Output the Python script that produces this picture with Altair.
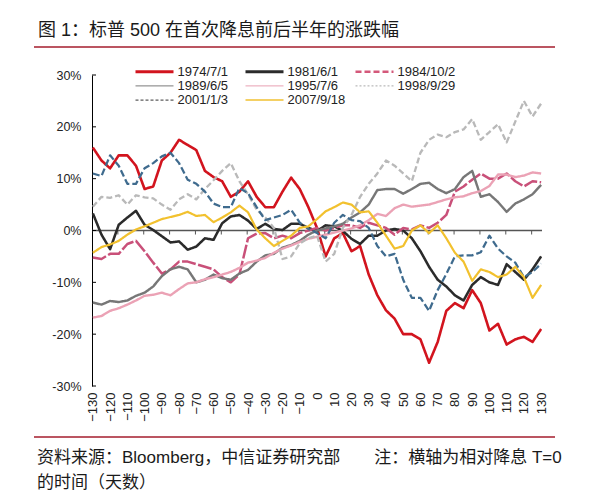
import altair as alt
import pandas as pd

# ---------------- data ----------------
DAYS = list(range(-130, 131, 5))
SERIES = ["1974/7/1", "1981/6/1", "1984/10/2", "1989/6/5",
          "1995/7/6", "1998/9/29", "2001/1/3", "2007/9/18"]

S1974 = [16, 13.5, 12, 14.5, 14.5, 12.5, 8, 8.5, 13.5, 15,
         17.5, 16.5, 15.5, 11.5, 10.3, 9.5, 6.5, 7.5, 9.5, 6.5,
         4.5, 4.5, 7.5, 10.2, 8, 4.5, 0.5, -5, -1.5, -0.5,
         -4, -3, -8.5, -12.5, -15.4, -17, -20, -20, -21, -25.5,
         -21.5, -15.5, -14, -15, -11.5, -14, -19.3, -18, -22, -21,
         -20.5, -21.5, -19]
S1981 = [3.3, -0.8, -3.6, 1.1, 2.5, 3.8, 1.1, 0.1, -1.1, -2.3,
         -2.1, -3.7, -3.1, -1.5, -1.8, 1.4, 2.7, 3, 1.9, 0.3,
         1.3, 0.3, 0.1, 1.3, 1.3, 0.5, -0.1, 1, 0.8, -0.1,
         -1.6, -2.6, -1, -1, 0, 0.3, 0, -1.5, -4, -7,
         -9.5, -10.8, -12.5, -13.5, -10.5, -9, -10, -10.5, -6.5, -8,
         -9.5, -7.5, -5]
S1984 = [-5.2, -5.5, -4.5, -4.5, -2.6, -2, -4, -6.2, -8.3, -7.5,
         -6, -6, -6.5, -7, -7.5, -9, -10, -8.5, -1.5, -0.6,
         -0.5, -1.5, -1, -1.5, -0.5, 0, 0.5, 0, 0.5, 1,
         1, 0.5, 1.5, 1, 0.5, -0.8, 0.5, 0.2, 1, 0.5,
         1.5, 3, 7.5, 8.5, 9.8, 11, 10, 10, 11, 9.5,
         8.5, 9.5, 9.3]
S1989 = [-13.9, -14.3, -13.6, -13.8, -13.5, -12.6, -12, -10.8, -8.8, -7.5,
         -7, -7.5, -10, -9.5, -8.5, -9.2, -9.5, -8.3, -7.6, -6,
         -4.8, -4.5, -3.3, -2.8, -2, -0.8, 0, 0.4, 0.8, 1.3,
         2.5, 3.5, 5, 7.8, 8, 8, 7.1, 8, 9, 9.2,
         8, 7.2, 8, 10.3, 11.5, 6.5, 7, 5.5, 3.6, 5.2,
         6, 7, 8.8]
S1995 = [-16.8, -16.5, -15.5, -15, -14.3, -13.5, -12.6, -12.4, -12, -12.5,
         -11.3, -10.2, -10, -9.4, -9, -8.5, -8, -7.2, -6.2, -5.8,
         -5.3, -4.3, -3.5, -2.9, -2.2, -1.6, -1.2, -0.8, -0.4, 0,
         0.4, 1, 2, 3.2, 2.8, 4.3, 5, 4.6, 4.8, 5,
         5.5, 6, 6.4, 6.6, 7.2, 7.6, 8.6, 10.8, 10.8, 10.3,
         10.6, 11.2, 11]
S1998 = [4.6, 6.5, 6.3, 6.8, 5, 6.8, 6.4, 6.2, 5, 4,
         6, 7, 6, 8, 9.7, 11.5, 13, 9.5, 7, 4,
         2.5, 0.5, -5.5, -5, -2.5, -1.5, -1, -6, -4.5, 0.5,
         3, 6.5, 9, 11, 13.5, 12.5, 11, 9.5, 15, 17.5,
         18.5, 18, 19, 19.5, 21.5, 17.5, 19, 20.5, 17, 21,
         25, 22, 24.5]
S2001 = [11, 10.5, 14.5, 12.5, 9, 9, 12, 13, 14.3, 15,
         13, 9.8, 9, 7.5, 5.2, 4.5, 4.5, 8.2, 7.2, 4.5,
         2, 2.5, 3, 4, 1.5, 0.3, -0.5, -1.5, 1.5, 3,
         2, 1.8, 0.5, -3, -5, -4.5, -9.5, -13, -13, -15.5,
         -11.5, -8.4, -5, -4.8, -4.8, -4.2, -1, -3.5, -5, -6.2,
         -9, -8, -6.4]
S2007 = [-4.3, -3.2, -2.7, -2, -0.8, 0.2, 0.8, 1.5, 2.2, 2.6,
         3, 3.6, 2.8, 3, 1.6, 2.5, 3.5, 4.8, 3.5, 0.2,
         -1.5, -3, -2, -1, 0.5, 0.8, 2.2, 3.7, 4.5, 5.4,
         5, 3.5, 3.7, 1.5, -1, -3.5, -3, 0, 1, -0.5,
         1, -1.5, -4.3, -6, -9.7, -7.5, -8, -9, -8.5, -7,
         -9, -13, -10.5]
VALUES = [S1974, S1981, S1984, S1989, S1995, S1998, S2001, S2007]

X_LABELS = [-130, -120, -110, -100, -90, -80, -70, -60, -50, -40, -30, -20, -10,
            0, 10, 20, 30, 40, 50, 60, 70, 80, 90, 100, 110, 120, 130]
Y_LABELS = [-30, -20, -10, 0, 10, 20, 30]
ZERO_TICKS = [-115.5, -100.5, -85.5, -70.5, -55.5, -40.5, -25.5, -10.5, 4.5,
              19.5, 34.5, 49.5, 64.5, 79.5, 94.5, 109.5, 124.5]

TITLE = "图 1：标普 500 在首次降息前后半年的涨跌幅"
FOOT1 = "资料来源：Bloomberg，中信证券研究部　　注：横轴为相对降息 T=0"
FOOT2 = "的时间（天数）"

# ---------------- styles ----------------
LINE_COLORS = ["#d2141e", "#2b2b2b", "#c95079", "#777777",
               "#eba2b5", "#b9b9b9", "#3f6b8e", "#f2c12e"]
LINE_WIDTHS = [2.6, 2.2, 2.2, 2.0, 2.0, 2.0, 2.0, 2.4]
LINE_DASH = [[1, 0], [1, 0], [14, 2.5], [1, 0], [1, 0], [6, 3], [7, 3], [1, 0]]

LEG_COLORS = ["#d2141e", "#2b2b2b", "#d4587a", "#7a7a7a",
              "#e8a0b2", "#a8a8a8", "#333333", "#f0c030"]
LEG_WIDTHS = [3, 3, 2.5, 1, 1, 1, 1, 1.5]
LEG_DASH = [None, None, [6, 3], None, None, [2, 2], [3, 2], None]

FONT = "Liberation Sans, Noto Sans CJK SC"
W, H = 450, 311
ZERO_PX = H / 2

rows = []
for name, vals in zip(SERIES, VALUES):
    for d, v in zip(DAYS, vals):
        rows.append({"day": d, "pct": v, "series": name})
df = pd.DataFrame(rows)

xs = alt.Scale(domain=[-130.5, 130.5], nice=False, zero=False)
ys = alt.Scale(domain=[-30, 30], nice=False, zero=False)

X_AXIS = alt.Axis(values=X_LABELS, labelAngle=270, domain=False, ticks=False,
                  grid=False, labelPadding=6, labelFontSize=13, labelColor="#222",
                  labelFont=FONT, labelOverlap=False, labelFlush=False,
                  labelBound=False, title=None)
Y_AXIS = alt.Axis(values=Y_LABELS, labelExpr="datum.value + '%'", domain=True,
                  domainColor="#000", domainWidth=1, ticks=False, grid=False,
                  labelPadding=11, labelFontSize=12.5, labelColor="#222",
                  labelFont=FONT, labelOverlap=False, title=None)


def xe(field):
    return alt.X(field, scale=xs, axis=X_AXIS, title=None)


def ye(field):
    return alt.Y(field, scale=ys, axis=Y_AXIS, title=None)


zero_line = alt.Chart(pd.DataFrame({"pct": [0]})).mark_rule(
    color="#555", strokeWidth=1.4).encode(
    y=ye("pct:Q"), x=alt.value(0), x2=alt.value(W))

zero_ticks = alt.Chart(pd.DataFrame({"day": ZERO_TICKS})).mark_rule(
    color="#555", strokeWidth=1).encode(
    x=xe("day:Q"), y=alt.value(ZERO_PX), y2=alt.value(ZERO_PX + 4))

y_ticks = alt.Chart(pd.DataFrame({"pct": Y_LABELS})).mark_rule(
    color="#000", strokeWidth=1).encode(
    y=ye("pct:Q"), x=alt.value(0), x2=alt.value(4))

lines = alt.Chart(df).mark_line(strokeJoin="round", clip=False).encode(
    x=xe("day:Q"), y=ye("pct:Q"),
    color=alt.Color("series:N", scale=alt.Scale(domain=SERIES, range=LINE_COLORS), legend=None),
    strokeDash=alt.StrokeDash("series:N", scale=alt.Scale(domain=SERIES, range=LINE_DASH), legend=None),
    strokeWidth=alt.StrokeWidth("series:N", scale=alt.Scale(domain=SERIES, range=LINE_WIDTHS), legend=None),
)

layers = [zero_line, zero_ticks, y_ticks, lines]

# manual legend
for i, name in enumerate(SERIES):
    col, row = i % 3, i // 3
    lx = 43.5 + col * 110
    ly = -3.3 + row * 14.2
    kw = dict(color=LEG_COLORS[i], strokeWidth=LEG_WIDTHS[i])
    if LEG_DASH[i] is not None:
        kw["strokeDash"] = LEG_DASH[i]
    sym = alt.Chart(pd.DataFrame({"s": [name]})).mark_rule(**kw).encode(
        x=alt.value(lx), x2=alt.value(lx + 38), y=alt.value(ly))
    lab = alt.Chart(pd.DataFrame({"s": [name]})).mark_text(
        align="left", baseline="middle", font=FONT, fontSize=13, color="#222").encode(
        text="s:N", x=alt.value(lx + 42), y=alt.value(ly))
    layers += [sym, lab]

# title, rules, footer
title = alt.Chart(pd.DataFrame({"t": [TITLE]})).mark_text(
    align="left", baseline="middle", font=FONT, fontSize=18, color="#1a1a1a").encode(
    text="t:N", x=alt.value(-54), y=alt.value(-44))
title_rule = alt.Chart(pd.DataFrame({"t": [1]})).mark_rule(
    color="#a51d2d", strokeWidth=1.5).encode(
    x=alt.value(-58), x2=alt.value(463), y=alt.value(-28))
foot_rule = alt.Chart(pd.DataFrame({"t": [1]})).mark_rule(
    color="#a51d2d", strokeWidth=1.5).encode(
    x=alt.value(-58), x2=alt.value(463), y=alt.value(362))
foot1 = alt.Chart(pd.DataFrame({"t": [FOOT1]})).mark_text(
    align="left", baseline="middle", font=FONT, fontSize=17, color="#1a1a1a").encode(
    text="t:N", x=alt.value(-55), y=alt.value(383))
foot2 = alt.Chart(pd.DataFrame({"t": [FOOT2]})).mark_text(
    align="left", baseline="middle", font=FONT, fontSize=17, color="#1a1a1a").encode(
    text="t:N", x=alt.value(-55), y=alt.value(408))
layers += [title, title_rule, foot_rule, foot1, foot2]

chart = alt.layer(*layers).properties(
    width=W, height=H,
    padding={"left": 84, "top": 67, "right": 45, "bottom": 105},
    autosize=alt.AutoSizeParams(type="none"),
    background="#ffffff",
).configure_view(stroke=None)

chart.save("out.html", embed_options={"renderer": "svg", "actions": False})
